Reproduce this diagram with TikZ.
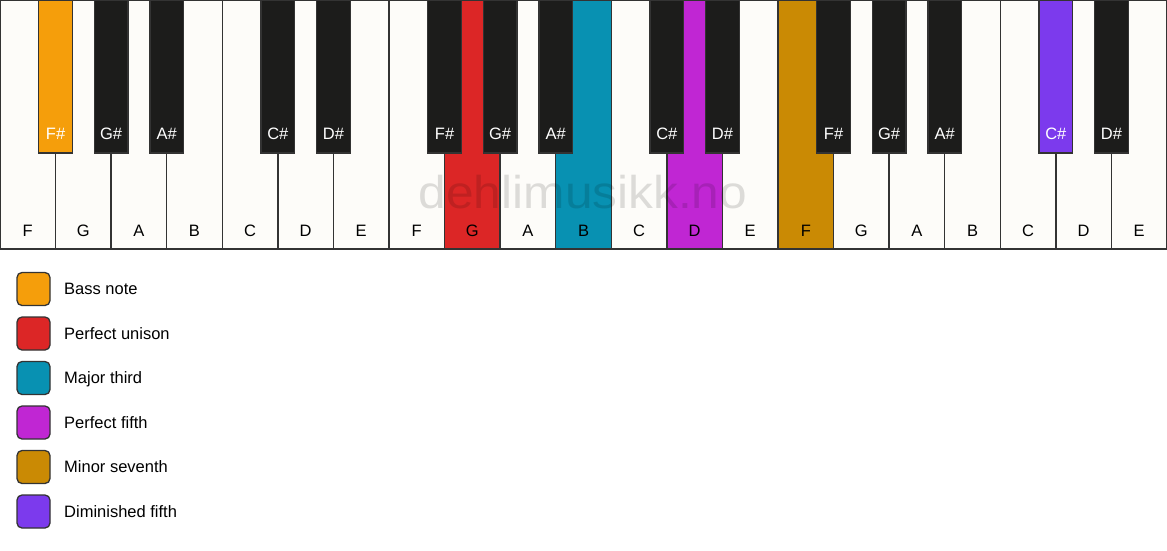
\documentclass[tikz,border=0pt]{standalone}
\usepackage{fontspec}
\setmainfont{Liberation Sans}
\usetikzlibrary{positioning}
\definecolor{ivory}{HTML}{FDFCF9}
\definecolor{ebony}{HTML}{1C1C1B}
\definecolor{edge}{HTML}{333333}
\definecolor{bass}{HTML}{F59E0B}
\definecolor{unison}{HTML}{DC2626}
\definecolor{third}{HTML}{0891B2}
\definecolor{fifth}{HTML}{C026D3}
\definecolor{seventh}{HTML}{CA8A04}
\definecolor{dimfifth}{HTML}{7C3AED}
\tikzset{
  keyfont/.style={font=\fontsize{16.5}{18}\selectfont},
  whitekey/.style={draw=edge, fill=ivory, line width=1.3pt, outer sep=0pt, inner sep=0pt,
    minimum width=55.571pt, text height=236pt, text depth=13pt, keyfont},
  blackkey/.style={draw=edge, fill=ebony, text=white, line width=1.3pt, outer sep=0pt, inner sep=0pt,
    minimum width=33.5pt, text height=139pt, text depth=14pt, anchor=north, keyfont},
  swatch/.style={draw=edge, line width=1.3pt, rounded corners=5pt, outer sep=0pt, minimum size=33pt},
  legendtext/.style={anchor=west, inner sep=0pt, text height=11.8pt, text depth=0pt, keyfont}
}
\begin{document}
\begin{tikzpicture}[x=1pt,y=-1pt]
\useasboundingbox (0,0) rectangle (1167,550);
% white keys
\node[whitekey, anchor=north west] (w1) at (0,0) {F};
\node[whitekey, right=0pt of w1] (w2) {G};
\node[whitekey, right=0pt of w2] (w3) {A};
\node[whitekey, right=0pt of w3] (w4) {B};
\node[whitekey, right=0pt of w4] (w5) {C};
\node[whitekey, right=0pt of w5] (w6) {D};
\node[whitekey, right=0pt of w6] (w7) {E};
\node[whitekey, right=0pt of w7] (w8) {F};
\node[whitekey, fill=unison, right=0pt of w8] (w9) {G};
\node[whitekey, right=0pt of w9] (w10) {A};
\node[whitekey, fill=third, right=0pt of w10] (w11) {B};
\node[whitekey, right=0pt of w11] (w12) {C};
\node[whitekey, fill=fifth, right=0pt of w12] (w13) {D};
\node[whitekey, right=0pt of w13] (w14) {E};
\node[whitekey, fill=seventh, right=0pt of w14] (w15) {F};
\node[whitekey, right=0pt of w15] (w16) {G};
\node[whitekey, right=0pt of w16] (w17) {A};
\node[whitekey, right=0pt of w17] (w18) {B};
\node[whitekey, right=0pt of w18] (w19) {C};
\node[whitekey, right=0pt of w19] (w20) {D};
\node[whitekey, right=0pt of w20] (w21) {E};
% watermark
\node[text=black, text opacity=0.13, font=\fontsize{46}{50}\selectfont, xscale=1.08] (mark) at (583,192) {dehlimusikk.no};
% black keys
\node[blackkey, fill=bass] (fs1) at (w1.north east) {F\#};
\node[blackkey] (gs1) at (w2.north east) {G\#};
\node[blackkey] (as1) at (w3.north east) {A\#};
\node[blackkey] (cs1) at (w5.north east) {C\#};
\node[blackkey] (ds1) at (w6.north east) {D\#};
\node[blackkey] (fs2) at (w8.north east) {F\#};
\node[blackkey] (gs2) at (w9.north east) {G\#};
\node[blackkey] (as2) at (w10.north east) {A\#};
\node[blackkey] (cs2) at (w12.north east) {C\#};
\node[blackkey] (ds2) at (w13.north east) {D\#};
\node[blackkey] (fs3) at (w15.north east) {F\#};
\node[blackkey] (gs3) at (w16.north east) {G\#};
\node[blackkey] (as3) at (w17.north east) {A\#};
\node[blackkey, fill=dimfifth] (cs3) at (w19.north east) {C\#};
\node[blackkey] (ds3) at (w20.north east) {D\#};
% legend
\node[swatch, fill=bass, anchor=north west] (s1) at (17,272.5) {};
\node[swatch, fill=unison, below=11.5pt of s1] (s2) {};
\node[swatch, fill=third, below=11.5pt of s2] (s3) {};
\node[swatch, fill=fifth, below=11.5pt of s3] (s4) {};
\node[swatch, fill=seventh, below=11.5pt of s4] (s5) {};
\node[swatch, fill=dimfifth, below=11.5pt of s5] (s6) {};
\node[legendtext, right=14pt of s1] (t1) {Bass note};
\node[legendtext, right=14pt of s2] (t2) {Perfect unison};
\node[legendtext, right=14pt of s3] (t3) {Major third};
\node[legendtext, right=14pt of s4] (t4) {Perfect fifth};
\node[legendtext, right=14pt of s5] (t5) {Minor seventh};
\node[legendtext, right=14pt of s6] (t6) {Diminished fifth};
\end{tikzpicture}
\end{document}
